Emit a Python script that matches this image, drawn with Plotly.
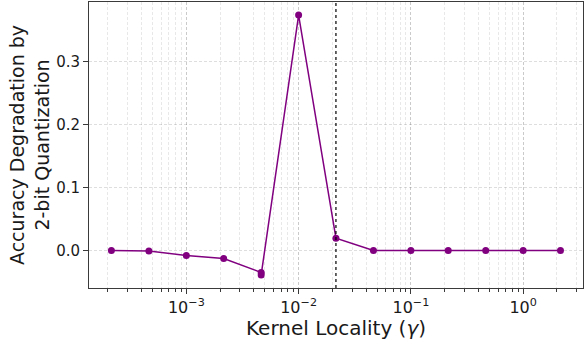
import plotly.graph_objects as go

# Data
gamma = [2.15e-4, 4.64e-4, 1.0e-3, 2.15e-3, 4.64e-3, 4.64e-3, 1.0e-2,
         2.15e-2, 4.64e-2, 1.0e-1, 2.15e-1, 4.64e-1, 1.0, 2.15]
degradation = [0.0, -0.001, -0.008, -0.013, -0.035, -0.039, 0.374,
               0.0195, 0.0, 0.0, 0.0, 0.0, 0.0, 0.0]
chosen_gamma = 2.15e-2

x_tickvals = [1e-3, 1e-2, 1e-1, 1.0]
x_ticktext = ["10<sup>−3</sup>", "10<sup>−2</sup>", "10<sup>−1</sup>", "10<sup>0</sup>"]
y_tickvals = [0.0, 0.1, 0.2, 0.3]
y_ticktext = ["0.0", "0.1", "0.2", "0.3"]

FONT = "DejaVu Sans"
PURPLE = "#800080"
GRID = "rgba(0,0,0,0.13)"
MINOR_GRID = "rgba(0,0,0,0.09)"
SPINE = "#3a3a3a"
DASH = "3px,2px"

fig = go.Figure()
fig.add_trace(go.Scatter(
    x=gamma, y=degradation, mode="lines+markers",
    line=dict(color=PURPLE, width=1.5),
    marker=dict(color=PURPLE, size=7),
    showlegend=False,
))

fig.add_shape(type="line", xref="x", yref="paper",
              x0=chosen_gamma, x1=chosen_gamma, y0=0, y1=1,
              line=dict(color="black", width=1.2, dash="dot"))

fig.update_layout(
    width=586, height=340,
    margin=dict(l=89, r=3, t=2, b=52),
    plot_bgcolor="white", paper_bgcolor="white",
    font=dict(family=FONT, size=15, color="#1a1a1a"),
    xaxis=dict(
        type="log", range=[-3.867, 0.533],
        tickvals=x_tickvals, ticktext=x_ticktext,
        ticks="outside", ticklen=5, tickwidth=1, tickcolor=SPINE,
        showline=True, linecolor=SPINE, linewidth=1, mirror=True,
        showgrid=True, gridcolor=GRID, griddash=DASH, gridwidth=1,
        minor=dict(dtick="D1", ticks="outside", ticklen=3, tickcolor=SPINE,
                   showgrid=True, gridcolor=MINOR_GRID, griddash=DASH, gridwidth=1),
        tickfont=dict(size=16),
        title=dict(text="Kernel Locality (<i>γ</i>)", font=dict(size=20), standoff=2),
        zeroline=False,
    ),
    yaxis=dict(
        range=[-0.0597, 0.3947],
        tickvals=y_tickvals, ticktext=y_ticktext,
        ticks="outside", ticklen=5, tickwidth=1, tickcolor=SPINE,
        showline=True, linecolor=SPINE, linewidth=1, mirror=True,
        showgrid=True, gridcolor=GRID, griddash=DASH, gridwidth=1,
        tickfont=dict(size=15),
        title=dict(text="Accuracy Degradation by<br>2-bit Quantization", font=dict(size=19), standoff=1),
        zeroline=False,
    ),
)

fig.write_html("out.html")
